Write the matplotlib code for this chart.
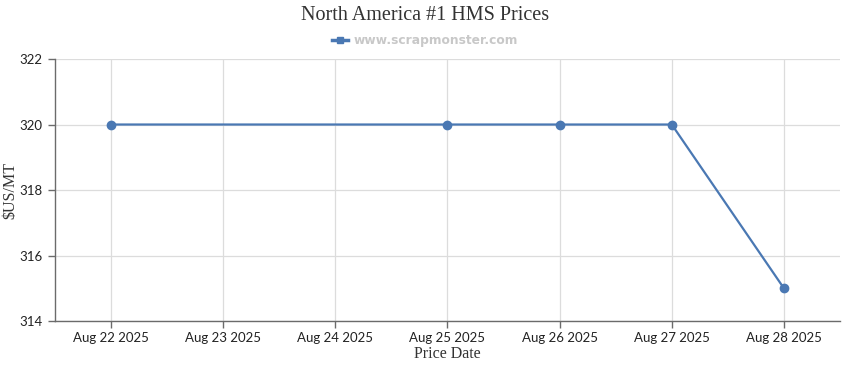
import numpy as np
import matplotlib.pyplot as plt
import matplotlib.dates as mdates
from matplotlib.lines import Line2D
from datetime import datetime, timedelta

# fechas con precio
fechas = ["2025-08-22", "2025-08-25", "2025-08-26", "2025-08-27", "2025-08-28"]
precios = [320, 320, 320, 320, 315]
# etiquetas del eje x (todos los dias)
fechas_eje = ["2025-08-22", "2025-08-23", "2025-08-24", "2025-08-25",
              "2025-08-26", "2025-08-27", "2025-08-28"]
y_ticks = [314, 316, 318, 320, 322]

color_linea = "#4a78b3"
color_grid = "#dcdcdc"
color_eje = "#6b6b6b"

x = [datetime.strptime(f, "%Y-%m-%d") for f in fechas]
x_eje = [datetime.strptime(f, "%Y-%m-%d") for f in fechas_eje]

fig = plt.figure(figsize=(8.5, 3.7), dpi=100)
ax = fig.add_axes([0.0647, 0.1324, 0.9235, 0.7081])

ax.plot(x, precios, "-o", color=color_linea, lw=1.6, markersize=6, zorder=3)

ax.set_xlim(x_eje[0] - timedelta(hours=12), x_eje[-1] + timedelta(hours=12))
ax.set_ylim(y_ticks[0], y_ticks[-1])
ax.set_xticks(x_eje)
ax.set_xticklabels([d.strftime("%b %d %Y").replace(" 0", " ") for d in x_eje])
ax.set_yticks(y_ticks)

ax.grid(True, color=color_grid, lw=0.9)
ax.set_axisbelow(True)
for lado in ["top", "right"]:
    ax.spines[lado].set_visible(False)
for lado in ["left", "bottom"]:
    ax.spines[lado].set_color(color_eje)
    ax.spines[lado].set_linewidth(1.0)

ax.tick_params(axis="both", colors=color_eje, length=5, width=1.0, labelsize=9.5,
               labelcolor="#222222")
ax.tick_params(axis="x", pad=3)
ax.tick_params(axis="y", pad=4)
for etiqueta in ax.get_xticklabels() + ax.get_yticklabels():
    etiqueta.set_family("Lato")

fuente_serif = "Liberation Serif"
ax.set_xlabel("Price Date", family=fuente_serif, fontsize=11.5, color="#333333", labelpad=1)
ax.set_ylabel("$US/MT", family=fuente_serif, fontsize=11.5, color="#333333")
ax.yaxis.set_label_coords(-0.047, 0.5)

fig.text(0.5, 0.958, "North America #1 HMS Prices", ha="center", va="center",
         family=fuente_serif, fontsize=14.5, color="#333333")

handle = Line2D([], [], color=color_linea, lw=2.5, marker="s", markersize=5)
fig.legend([handle], ["www.scrapmonster.com"], loc="center", bbox_to_anchor=(0.5, 0.89),
           frameon=False, handlelength=1.3, handletextpad=0.4,
           prop={"weight": "bold", "size": 8.8}, labelcolor="#c8c8c8")

fig.savefig("out.png", dpi=100)
